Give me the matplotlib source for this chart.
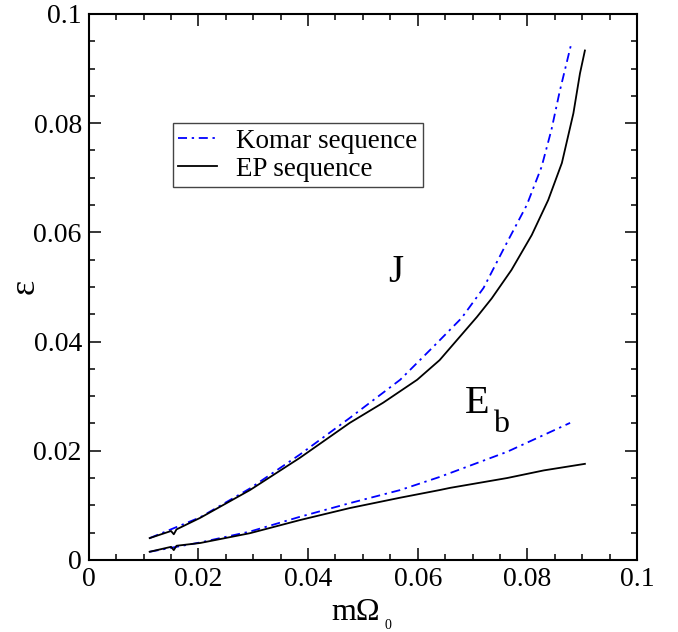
import numpy as np
import matplotlib
matplotlib.use("Agg")
import matplotlib.pyplot as plt
from matplotlib.ticker import MultipleLocator

plt.rcParams['font.family'] = ['Liberation Serif', 'DejaVu Serif']

# angular momentum J, EP sequence (black) and Komar sequence (blue)
j_ep_x = [0.0111, 0.0150, 0.0155, 0.0160, 0.0203, 0.0294, 0.0385, 0.0476, 0.0537,
          0.0599, 0.0640, 0.0708, 0.0735, 0.0771, 0.0808, 0.0838, 0.0863, 0.0884,
          0.0896, 0.0905]
j_ep_y = [0.0040, 0.0053, 0.0047, 0.0056, 0.0077, 0.0128, 0.0187, 0.0251, 0.0288,
          0.0330, 0.0366, 0.0445, 0.0479, 0.0531, 0.0595, 0.0659, 0.0727, 0.0818,
          0.0891, 0.0933]
j_komar_x = [0.0111, 0.0203, 0.0294, 0.0385, 0.0476, 0.0568, 0.0628, 0.0680, 0.0720,
             0.0759, 0.0799, 0.0826, 0.0844, 0.0859, 0.0881]
j_komar_y = [0.0040, 0.0078, 0.0131, 0.0193, 0.0260, 0.0330, 0.0390, 0.0443, 0.0498,
             0.0574, 0.0650, 0.0720, 0.0788, 0.0858, 0.0949]

# binding energy E_b
eb_ep_x = [0.0111, 0.0150, 0.0155, 0.0160, 0.0203, 0.0294, 0.0385, 0.0476, 0.0568,
           0.0640, 0.0659, 0.0763, 0.0830, 0.0905]
eb_ep_y = [0.0015, 0.0024, 0.0018, 0.0026, 0.0031, 0.0049, 0.0073, 0.0095, 0.0114,
           0.0128, 0.0132, 0.0150, 0.0164, 0.0176]
eb_komar_x = [0.0111, 0.0203, 0.0294, 0.0385, 0.0476, 0.0568, 0.0640, 0.0763, 0.0878]
eb_komar_y = [0.0015, 0.0032, 0.0052, 0.0079, 0.0104, 0.0128, 0.0152, 0.0198, 0.0251]

ticks = [0, 0.02, 0.04, 0.06, 0.08, 0.1]
tick_labels = ["0", "0.02", "0.04", "0.06", "0.08", "0.1"]

fig = plt.figure(figsize=(6.78, 6.32), dpi=100)
ax = fig.add_axes([0.131, 0.114, 0.8085, 0.864])

dash = (5, 2.6, 1.3, 2.6)
ax.plot(j_komar_x, j_komar_y, color="blue", lw=1.3, dashes=dash, label="Komar sequence")
ax.plot(j_ep_x, j_ep_y, color="black", lw=1.3, label="EP sequence")
ax.plot(eb_komar_x, eb_komar_y, color="blue", lw=1.3, dashes=dash)
ax.plot(eb_ep_x, eb_ep_y, color="black", lw=1.3)

ax.set_xlim(0, 0.1)
ax.set_ylim(0, 0.1)
ax.set_xticks(ticks)
ax.set_xticklabels(tick_labels)
ax.set_yticks(ticks)
ax.set_yticklabels(tick_labels)
ax.xaxis.set_minor_locator(MultipleLocator(0.005))
ax.yaxis.set_minor_locator(MultipleLocator(0.005))
ax.tick_params(which="both", direction="in", top=True, right=True, width=1.1,
               labelsize=20, pad=5)
ax.tick_params(which="major", length=8.6)
ax.tick_params(which="minor", length=4.3)
for s in ax.spines.values():
    s.set_linewidth(1.5)

# curve labels
ax.text(0.056, 0.0527, "J", fontsize=28, ha="center", va="center")
ax.text(0.0686, 0.0269, "E", fontsize=29, ha="left", va="baseline")
ax.text(0.0737, 0.0234, "b", fontsize=23, ha="left", va="baseline")

# axis labels
ax.text(0.487, -0.110, "mΩ", fontsize=23, ha="center", va="baseline", transform=ax.transAxes)
ax.text(0.539, -0.126, "0", fontsize=10, ha="left", va="baseline", transform=ax.transAxes)
ax.text(-0.117, 0.5, "ε", fontsize=26, ha="center", va="center", rotation=90,
        transform=ax.transAxes)

leg = ax.legend(loc="upper left", bbox_to_anchor=(0.153, 0.800), fontsize=19.5,
                fancybox=False, framealpha=1, edgecolor="#444444", borderpad=0.2,
                labelspacing=0.12, handlelength=1.45, handletextpad=0.7,
                borderaxespad=0)
leg.get_frame().set_linewidth(1.0)

fig.savefig("out.png", dpi=100)
